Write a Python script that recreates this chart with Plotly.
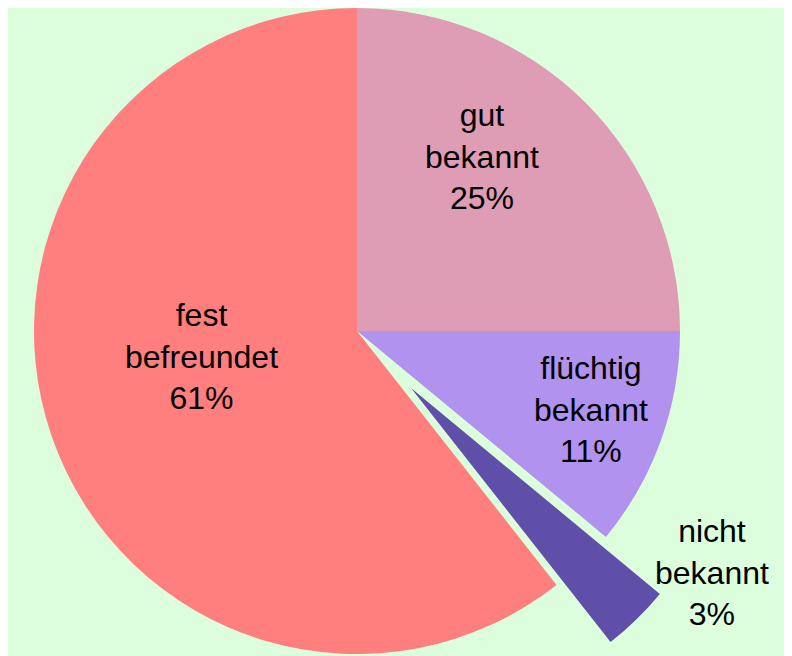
import plotly.graph_objects as go

# Anteile (in %), Reihenfolge im Uhrzeigersinn ab 12 Uhr
labels = ['gut<br>bekannt', 'flüchtig<br>bekannt', 'nicht<br>bekannt', 'fest<br>befreundet']
values = [25.0, 11.0, 3.4, 60.6]
colors = ['#DE9DB4', '#B192EE', '#604FA8', '#FF7F7F']

# Position der Beschriftungen (Pixel auf der Seite)
label_x = [482, 591, 712, 201]
label_y = [156, 409, 572, 356]

W, H = 776, 706
R = 323
center = (349, 323)       # Mittelpunkt der Torte (px in der Figur)
pulled_center = (403, 380)  # Spitze des herausgezogenen Stücks


def dom(c):
    x, y = c
    return dict(x=[(x - R) / W, (x + R) / W],
                y=[(H - (y + R)) / H, (H - (y - R)) / H])


transparent = 'rgba(0,0,0,0)'
pulled = [i == 2 for i in range(len(values))]

fig = go.Figure()

# Haupttorte ohne das herausgezogene Stück
fig.add_trace(go.Pie(
    labels=labels,
    values=values,
    sort=False,
    direction='clockwise',
    rotation=0,
    domain=dom(center),
    marker=dict(colors=[transparent if p else c for c, p in zip(colors, pulled)],
                line=dict(width=0)),
    textinfo='none',
    hoverinfo='label+percent',
    showlegend=False,
))

# herausgezogenes Stück als eigene, verschobene Torte
fig.add_trace(go.Pie(
    labels=labels,
    values=values,
    sort=False,
    direction='clockwise',
    rotation=0,
    domain=dom(pulled_center),
    marker=dict(colors=[c if p else transparent for c, p in zip(colors, pulled)],
                line=dict(width=0)),
    textinfo='none',
    hoverinfo='skip',
    showlegend=False,
))

# Beschriftungen
total = sum(values)
for lab, val, lx, ly in zip(labels, values, label_x, label_y):
    fig.add_annotation(
        x=(lx - 8) / W, y=1 - (ly - 8) / H,
        xref='paper', yref='paper',
        xanchor='center', yanchor='middle',
        text=f"{lab}<br>{round(100 * val / total)}%",
        showarrow=False,
        font=dict(family='Liberation Sans, Arial', size=32, color='black'),
    )

fig.update_layout(
    width=W,
    height=H,
    margin=dict(l=0, r=0, t=0, b=0),
    paper_bgcolor='#DDFEDD',
    plot_bgcolor='#DDFEDD',
)

fig.write_html("out.html")
